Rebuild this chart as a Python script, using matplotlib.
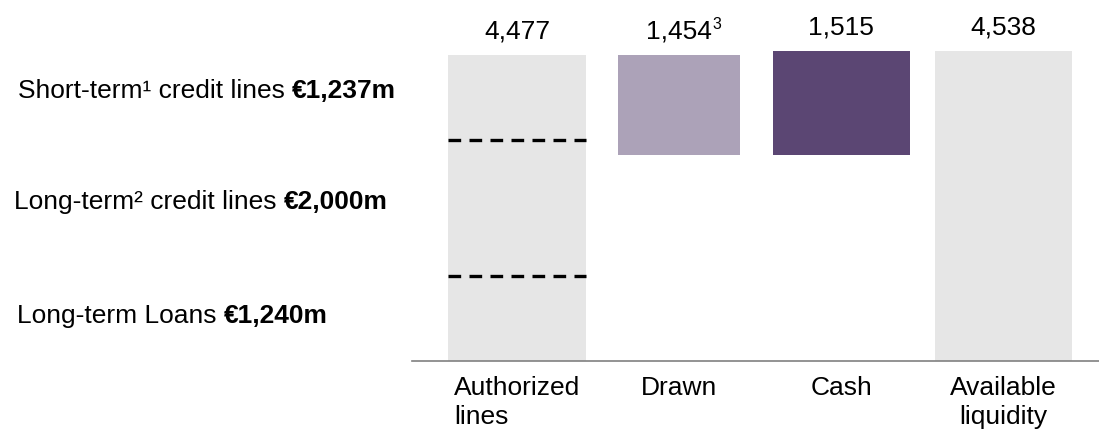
import matplotlib
matplotlib.use("Agg")
import matplotlib.pyplot as plt
import numpy as np

plt.rcParams['font.family'] = ['Liberation Sans', 'DejaVu Sans']

categories = ["Authorized\nlines", "Drawn", "Cash", "Available\nliquidity"]
values = [4477, 1454, 1515, 4538]
value_labels = ["4,477", "1,454", "1,515", "4,538"]
value_notes = ["", "3", "", ""]
bottoms = [0, 4477 - 1454, 4477 - 1454, 0]
colors = ["#E6E6E6", "#ACA2B8", "#5B4673", "#E6E6E6"]
widths = [0.85, 0.75, 0.845, 0.845]
split_levels = [1240, 3240]  # Loans 1,240 ; + LT credit lines 2,000

left_regular = ["Short-term¹ credit lines", "Long-term² credit lines", "Long-term Loans"]
left_bold = ["€1,237m", "€2,000m", "€1,240m"]
left_baselines_px = [98, 209, 323]
left_x_px = [18, 14, 17]

FS = 19
W, H = 1099, 435
fig = plt.figure(figsize=(W / 100, H / 100), dpi=100)
ax = fig.add_axes([412 / W, 73 / H, 1 - 412 / W, 1 - 73 / H])

x = np.arange(len(values))
bars = ax.bar(x, values, bottom=bottoms, width=widths, color=colors, zorder=2)

ax.set_xlim(-0.647, 3.588)
ax.set_ylim(0, 5300)

# dashed splits inside the authorized bar
b0 = bars[0]
ax.hlines(split_levels, b0.get_x(), b0.get_x() + b0.get_width(), colors="black",
          linestyles=(0, (3.8, 2.5)), linewidth=2.4, zorder=3)

# value labels
value_texts = []
for xi, b, v, lab in zip(x, bottoms, values, value_labels):
    t = ax.annotate(lab, xy=(xi, b + v), xytext=(0, 12.5), textcoords="offset points",
                    ha="center", va="baseline", fontsize=FS, color="black")
    value_texts.append(t)

# category labels
for i, (xi, cat) in enumerate(zip(x, categories)):
    if i == 0:
        ax.annotate(cat, xy=(bars[0].get_x(), 0), xytext=(4.5, -10),
                    textcoords="offset points", ha="left", va="top",
                    multialignment="left", fontsize=FS, linespacing=1.25,
                    annotation_clip=False)
    else:
        ax.annotate(cat, xy=(xi, 0), xytext=(0, -10), textcoords="offset points",
                    ha="center", va="top", multialignment="center", fontsize=FS,
                    linespacing=1.25, annotation_clip=False)

for s in ["top", "right", "left"]:
    ax.spines[s].set_visible(False)
ax.spines["bottom"].set_color("#808080")
ax.spines["bottom"].set_linewidth(1.2)
ax.set_xticks([])
ax.set_yticks([])

fig.canvas.draw()
renderer = fig.canvas.get_renderer()

# footnote superscripts on value labels
for t, note in zip(value_texts, value_notes):
    if note:
        ext = t.get_window_extent(renderer=renderer)
        fig.text((ext.x1 + 0.5) / W, (ext.y1 - 9) / H, note, ha="left",
                 va="baseline", fontsize=FS * 0.6)

# left annotations
for reg, bold, yb, xl in zip(left_regular, left_bold, left_baselines_px, left_x_px):
    t = fig.text(xl / W, 1 - yb / H, reg, ha="left", va="baseline", fontsize=FS)
    ext = t.get_window_extent(renderer=renderer)
    fig.text((ext.x1 + 7) / W, 1 - yb / H, bold, ha="left", va="baseline",
             fontsize=FS, fontweight="bold")

fig.savefig("out.png", dpi=100)
